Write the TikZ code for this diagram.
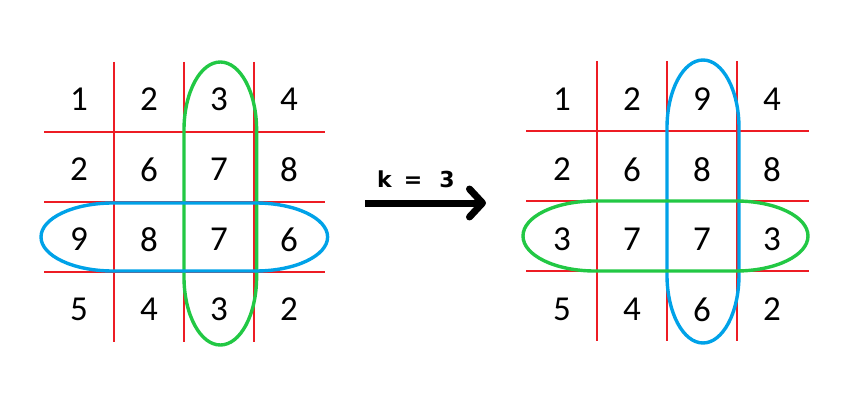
\documentclass[tikz,border=0pt]{standalone}
\usepackage{fontspec}
\setmainfont{Carlito}
\newfontfamily\labelfont{DejaVu Sans}
\usetikzlibrary{arrows.meta}
\definecolor{gridred}{RGB}{237,28,36}
\definecolor{selgreen}{RGB}{34,200,68}
\definecolor{selblue}{RGB}{0,162,232}
\tikzset{
  x=1pt,y=1pt,
  cell/.style={inner sep=0pt,font=\fontsize{35}{40}\selectfont},
  gridline/.style={draw=gridred,line width=2.8pt},
  ring/.style={line width=3.4pt},
}
\newcommand{\vstadium}[5]{% color, cx, cy, a, H (b=68)
  \draw[ring,#1] ({#2-#4},{#3+#5-68}) arc[start angle=180,end angle=0,x radius=#4,y radius=68]
    -- ({#2+#4},{#3-#5+68}) arc[start angle=0,end angle=-180,x radius=#4,y radius=68] -- cycle;}
\newcommand{\hstadium}[5]{% color, cx, cy, b(half height), L(half length) (a=72)
  \draw[ring,#1] ({#2+#5-72},{#3+#4}) arc[start angle=90,end angle=-90,x radius=72,y radius=#4]
    -- ({#2-#5+72},{#3-#4}) arc[start angle=270,end angle=90,x radius=72,y radius=#4] -- cycle;}
\begin{document}
\begin{tikzpicture}
\useasboundingbox (0,0) rectangle (855,400);
% ---------- left grid ----------
\foreach \x in {114,184,254} \draw[gridline] (\x,338) -- (\x,58);
\foreach \y in {268,198,128} \draw[gridline] (44,\y) -- (325,\y);
\foreach \v/\x/\y/\n in {1/79/300.5/L11,2/149/300.5/L12,3/219/300.5/L13,4/289/300.5/L14,
  2/79/230.5/L21,6/149/230.5/L22,7/219/230.5/L23,8/289/230.5/L24,
  9/79/160.5/L31,8/149/160.5/L32,7/219/160.5/L33,6/289/160.5/L34,
  5/79/90.5/L41,4/149/90.5/L42,3/219/90.5/L43,2/289/90.5/L44}
  \node[cell] (\n) at (\x,\y) {\v};
\vstadium{selgreen}{220.3}{196.5}{36.3}{141.5}
\hstadium{selblue}{184.3}{163}{34}{143.3}
% ---------- arrow ----------
\coordinate (astart) at (365,197);
\coordinate (aend) at (486,197);
\draw[line width=7pt,-{Straight Barb[length=13pt,width=28pt,line cap=round,line join=round]}] (astart) -- (aend);
\node[anchor=base west,inner sep=0pt,font=\labelfont\bfseries\fontsize{22}{26}\selectfont] (klabel) at (377,212.5) {k\hspace{12pt}=\hspace{17pt}3};
% ---------- right grid ----------
\foreach \x in {597,667,737} \draw[gridline] (\x,339) -- (\x,59);
\foreach \y in {269,199,129} \draw[gridline] (526,\y) -- (809,\y);
\foreach \v/\x/\y/\n in {1/562/300.5/R11,2/632/300.5/R12,9/702/300.5/R13,4/772/300.5/R14,
  2/562/230.5/R21,6/632/230.5/R22,8/702/230.5/R23,8/772/230.5/R24,
  3/562/160.5/R31,7/632/160.5/R32,7/702/160.5/R33,3/772/160.5/R34,
  5/562/90.5/R41,4/632/90.5/R42,6/702/90.5/R43,2/772/90.5/R44}
  \node[cell] (\n) at (\x,\y) {\v};
\vstadium{selblue}{703}{198.5}{36}{141.5}
\hstadium{selgreen}{665.5}{164}{35}{142.5}
\end{tikzpicture}
\end{document}
